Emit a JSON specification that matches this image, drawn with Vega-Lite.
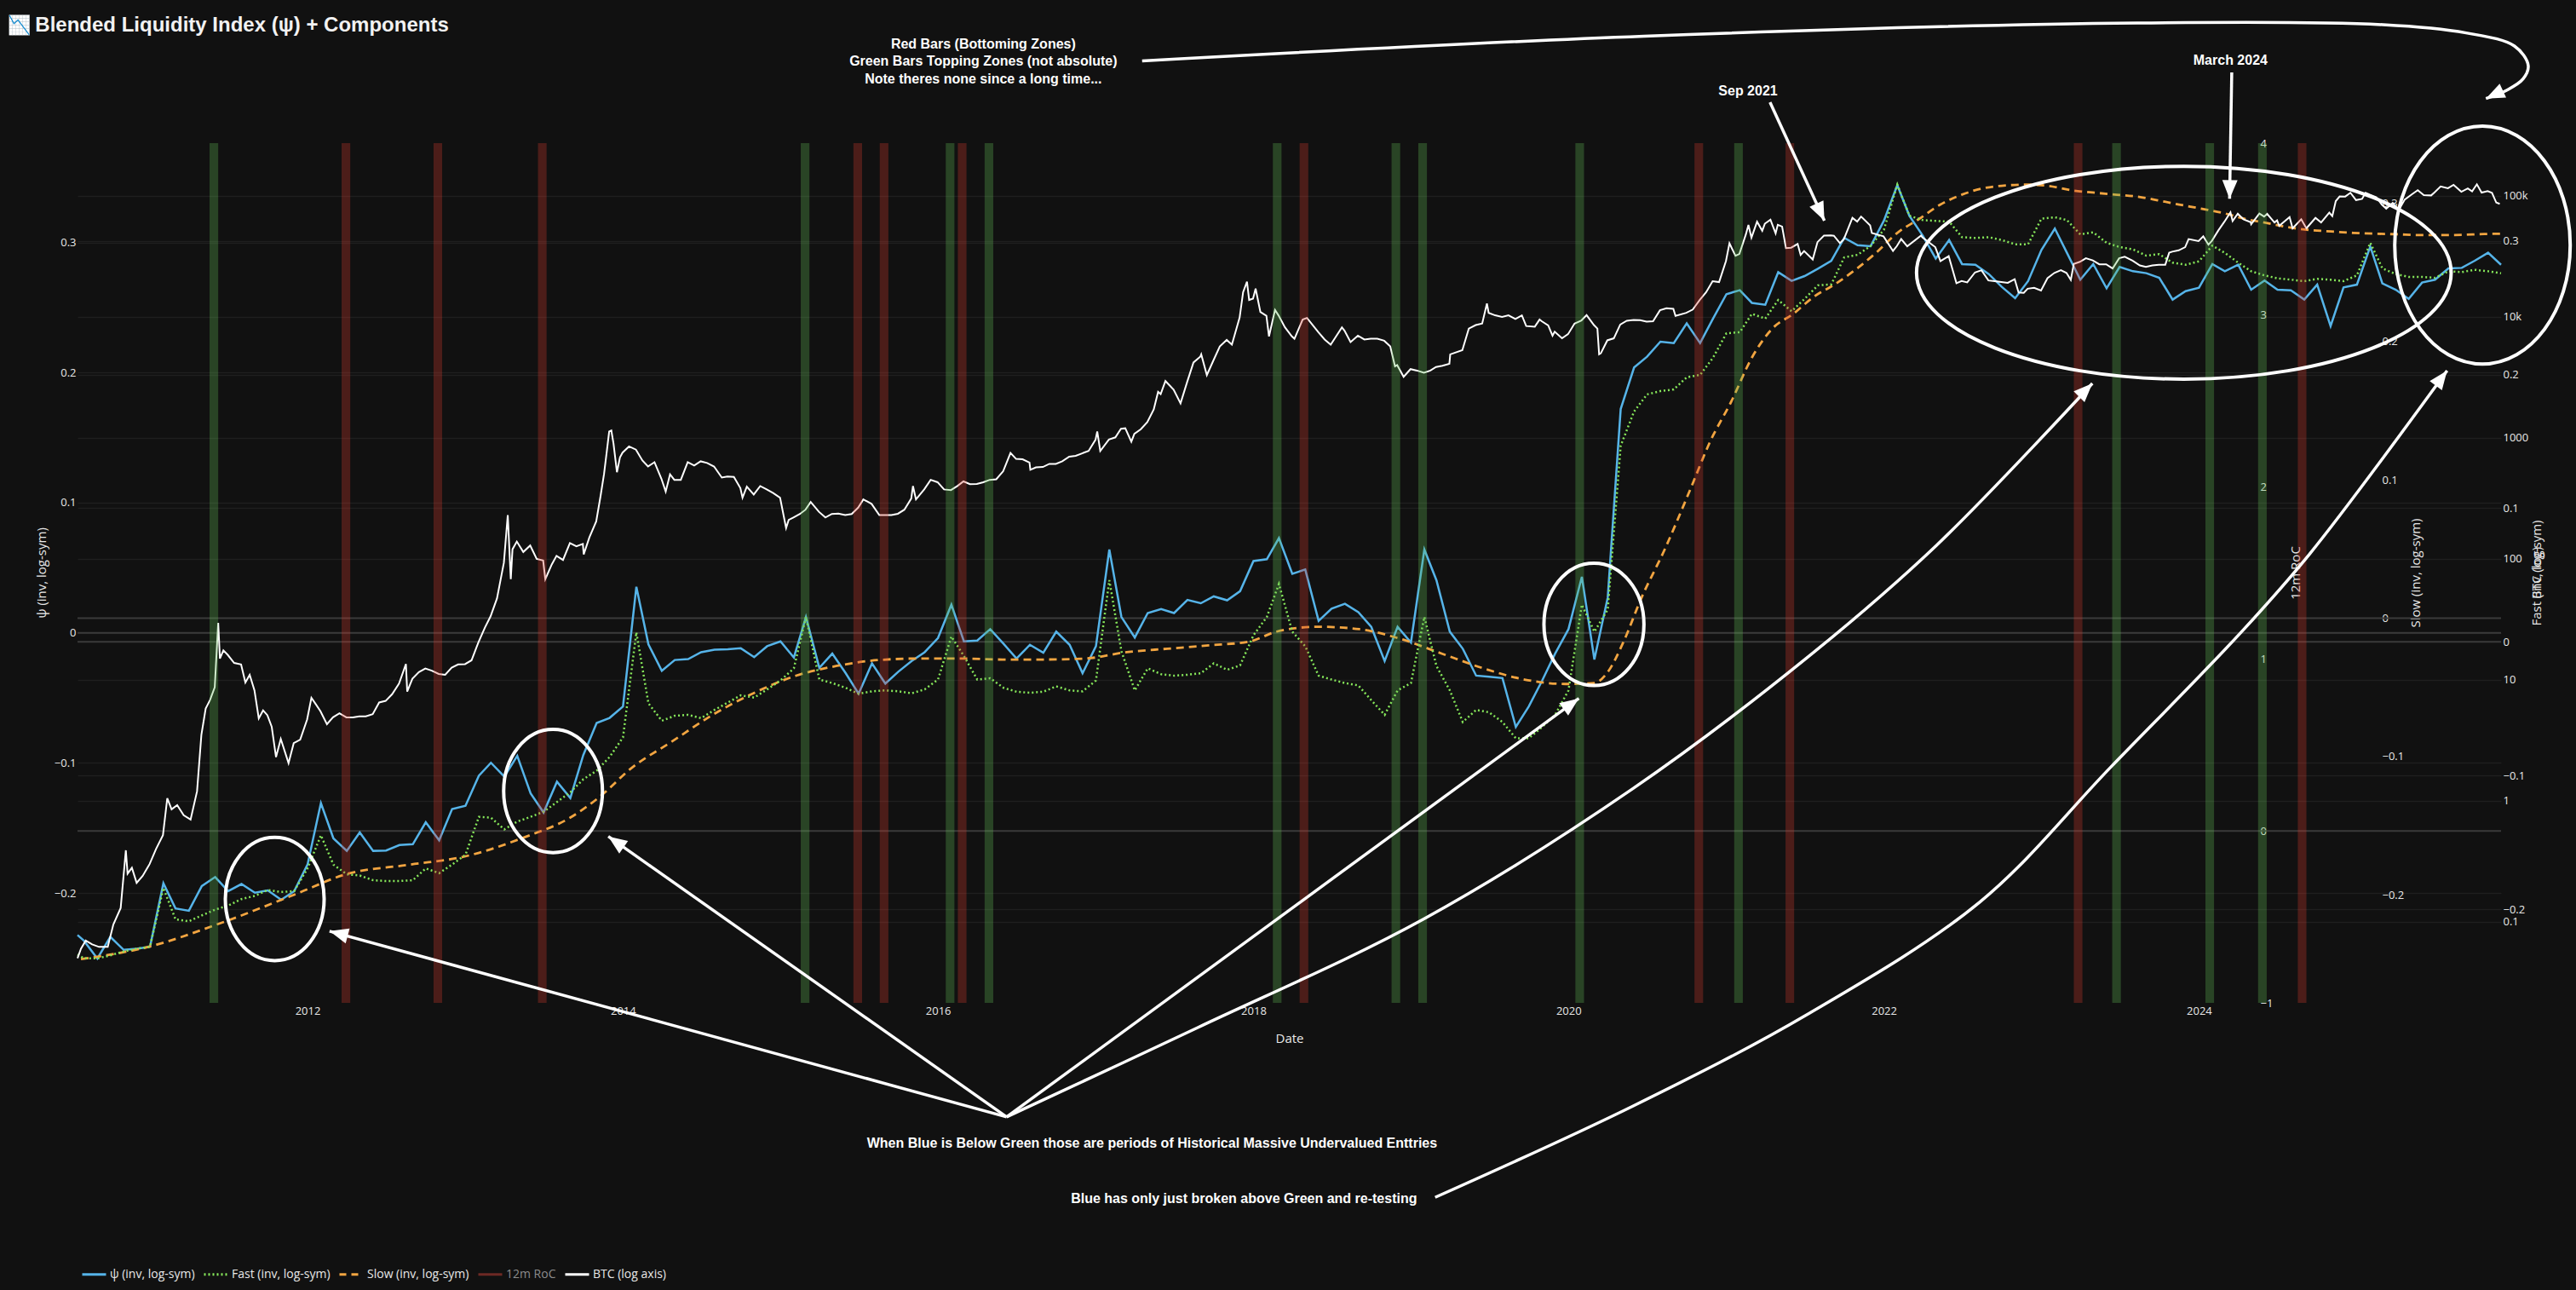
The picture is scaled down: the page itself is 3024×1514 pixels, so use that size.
{
  "$schema": "https://vega.github.io/schema/vega-lite/v6.json",
  "width": 2845,
  "height": 1009,
  "autosize": {"type": "none"},
  "padding": {"left": 91, "top": 168, "right": 88, "bottom": 337},
  "background": "#111111",
  "config": {
    "view": {"stroke": null},
    "axis": {
      "labelFont": "Open Sans", "labelFontSize": 13, "labelColor": "#e8e8e8",
      "titleFont": "Open Sans", "titleFontSize": 15, "titleFontWeight": "normal", "titleColor": "#e8e8e8",
      "domain": false, "ticks": false, "labelPadding": 2, "gridColor": "#1f1f1f", "gridWidth": 1.5,
      "labelOverlap": false, "labelFlush": false, "labelBound": false
    }
  },
  "datasets": {
    "m": [
      {"d": "2010-07-17", "p": -0.2323, "f": -0.2340}, {"d": "2010-08-01", "p": -0.2367, "f": -0.2368},
      {"d": "2010-09-01", "p": -0.2503, "f": -0.2368}, {"d": "2010-10-01", "p": -0.2337, "f": -0.2345},
      {"d": "2010-11-01", "p": -0.2437, "f": -0.2316}, {"d": "2010-12-01", "p": -0.2428, "f": -0.2295},
      {"d": "2011-01-01", "p": -0.2413, "f": -0.2280}, {"d": "2011-02-01", "p": -0.1925, "f": -0.1841},
      {"d": "2011-03-01", "p": -0.2118, "f": -0.2076}, {"d": "2011-04-01", "p": -0.2136, "f": -0.2090},
      {"d": "2011-05-01", "p": -0.1946, "f": -0.2046}, {"d": "2011-06-01", "p": -0.1877, "f": -0.2003},
      {"d": "2011-07-01", "p": -0.1986, "f": -0.1973}, {"d": "2011-08-01", "p": -0.1931, "f": -0.1924},
      {"d": "2011-09-01", "p": -0.1998, "f": -0.1900}, {"d": "2011-10-01", "p": -0.1980, "f": -0.1856},
      {"d": "2011-11-01", "p": -0.2052, "f": -0.1871}, {"d": "2011-12-01", "p": -0.1986, "f": -0.1865},
      {"d": "2012-01-01", "p": -0.1781, "f": -0.1695}, {"d": "2012-02-01", "p": -0.1309, "f": -0.1447},
      {"d": "2012-03-01", "p": -0.1580, "f": -0.1666}, {"d": "2012-04-01", "p": -0.1676, "f": -0.1739},
      {"d": "2012-05-01", "p": -0.1534, "f": -0.1748}, {"d": "2012-06-01", "p": -0.1676, "f": -0.1783},
      {"d": "2012-07-01", "p": -0.1673, "f": -0.1789}, {"d": "2012-08-01", "p": -0.1631, "f": -0.1789},
      {"d": "2012-09-01", "p": -0.1625, "f": -0.1783}, {"d": "2012-10-01", "p": -0.1456, "f": -0.1695},
      {"d": "2012-11-01", "p": -0.1595, "f": -0.1730}, {"d": "2012-12-01", "p": -0.1354, "f": -0.1666},
      {"d": "2013-01-01", "p": -0.1330, "f": -0.1593}, {"d": "2013-02-01", "p": -0.1099, "f": -0.1309},
      {"d": "2013-03-01", "p": -0.0999, "f": -0.1315}, {"d": "2013-04-01", "p": -0.1105, "f": -0.1403},
      {"d": "2013-05-01", "p": -0.0946, "f": -0.1344}, {"d": "2013-06-01", "p": -0.1234, "f": -0.1309},
      {"d": "2013-07-01", "p": -0.1381, "f": -0.1271}, {"d": "2013-08-01", "p": -0.1144, "f": -0.1198},
      {"d": "2013-09-01", "p": -0.1270, "f": -0.1125}, {"d": "2013-10-01", "p": -0.0940, "f": -0.1028},
      {"d": "2013-11-01", "p": -0.0693, "f": -0.0964}, {"d": "2013-12-01", "p": -0.0654, "f": -0.0861},
      {"d": "2014-01-01", "p": -0.0566, "f": -0.0715}, {"d": "2014-02-01", "p": 0.0354, "f": 0.0071},
      {"d": "2014-03-01", "p": -0.0089, "f": -0.0460}, {"d": "2014-04-01", "p": -0.0292, "f": -0.0590},
      {"d": "2014-05-01", "p": -0.0209, "f": -0.0553}, {"d": "2014-06-01", "p": -0.0202, "f": -0.0546},
      {"d": "2014-07-01", "p": -0.0149, "f": -0.0571}, {"d": "2014-08-01", "p": -0.0130, "f": -0.0509},
      {"d": "2014-09-01", "p": -0.0126, "f": -0.0454}, {"d": "2014-10-01", "p": -0.0119, "f": -0.0400},
      {"d": "2014-11-01", "p": -0.0187, "f": -0.0417}, {"d": "2014-12-01", "p": -0.0103, "f": -0.0356},
      {"d": "2015-01-01", "p": -0.0066, "f": -0.0289}, {"d": "2015-02-01", "p": -0.0190, "f": -0.0198},
      {"d": "2015-03-01", "p": 0.0122, "f": 0.0186}, {"d": "2015-04-01", "p": -0.0269, "f": -0.0282},
      {"d": "2015-05-01", "p": -0.0160, "f": -0.0308}, {"d": "2015-06-01", "p": -0.0310, "f": -0.0344},
      {"d": "2015-07-01", "p": -0.0468, "f": -0.0388}, {"d": "2015-08-01", "p": -0.0235, "f": -0.0370},
      {"d": "2015-09-01", "p": -0.0390, "f": -0.0363}, {"d": "2015-10-01", "p": -0.0299, "f": -0.0370},
      {"d": "2015-11-01", "p": -0.0217, "f": -0.0385}, {"d": "2015-12-01", "p": -0.0149, "f": -0.0356},
      {"d": "2016-01-01", "p": -0.0040, "f": -0.0282}, {"d": "2016-02-01", "p": 0.0216, "f": 0.0040},
      {"d": "2016-03-01", "p": -0.0066, "f": -0.0106}, {"d": "2016-04-01", "p": -0.0059, "f": -0.0282},
      {"d": "2016-05-01", "p": 0.0028, "f": -0.0272}, {"d": "2016-06-01", "p": -0.0085, "f": -0.0344},
      {"d": "2016-07-01", "p": -0.0198, "f": -0.0373}, {"d": "2016-08-01", "p": -0.0092, "f": -0.0381},
      {"d": "2016-09-01", "p": -0.0153, "f": -0.0373}, {"d": "2016-10-01", "p": 0.0009, "f": -0.0333},
      {"d": "2016-11-01", "p": -0.0092, "f": -0.0363}, {"d": "2016-12-01", "p": -0.0310, "f": -0.0370},
      {"d": "2017-01-01", "p": -0.0103, "f": -0.0289}, {"d": "2017-02-01", "p": 0.0640, "f": 0.0461},
      {"d": "2017-03-01", "p": 0.0122, "f": -0.0070}, {"d": "2017-04-01", "p": -0.0036, "f": -0.0363},
      {"d": "2017-05-01", "p": 0.0152, "f": -0.0198}, {"d": "2017-06-01", "p": 0.0182, "f": -0.0242},
      {"d": "2017-07-01", "p": 0.0152, "f": -0.0253}, {"d": "2017-08-01", "p": 0.0253, "f": -0.0246},
      {"d": "2017-09-01", "p": 0.0227, "f": -0.0235}, {"d": "2017-10-01", "p": 0.0280, "f": -0.0161},
      {"d": "2017-11-01", "p": 0.0250, "f": -0.0209}, {"d": "2017-12-01", "p": 0.0320, "f": -0.0176},
      {"d": "2018-01-01", "p": 0.0552, "f": 0.0049}, {"d": "2018-02-01", "p": 0.0566, "f": 0.0186},
      {"d": "2018-03-01", "p": 0.0728, "f": 0.0433}, {"d": "2018-04-01", "p": 0.0453, "f": 0.0076},
      {"d": "2018-05-01", "p": 0.0487, "f": -0.0033}, {"d": "2018-06-01", "p": 0.0092, "f": -0.0253},
      {"d": "2018-07-01", "p": 0.0186, "f": -0.0282}, {"d": "2018-08-01", "p": 0.0223, "f": -0.0308},
      {"d": "2018-09-01", "p": 0.0159, "f": -0.0326}, {"d": "2018-10-01", "p": 0.0046, "f": -0.0436},
      {"d": "2018-11-01", "p": -0.0217, "f": -0.0546}, {"d": "2018-12-01", "p": 0.0046, "f": -0.0363},
      {"d": "2019-01-01", "p": -0.0074, "f": -0.0308}, {"d": "2019-02-01", "p": 0.0640, "f": 0.0186},
      {"d": "2019-03-01", "p": 0.0404, "f": -0.0180}, {"d": "2019-04-01", "p": 0.0009, "f": -0.0363},
      {"d": "2019-05-01", "p": -0.0122, "f": -0.0600}, {"d": "2019-06-01", "p": -0.0329, "f": -0.0509},
      {"d": "2019-07-01", "p": -0.0337, "f": -0.0527}, {"d": "2019-08-01", "p": -0.0348, "f": -0.0600},
      {"d": "2019-09-01", "p": -0.0724, "f": -0.0721}, {"d": "2019-10-01", "p": -0.0566, "f": -0.0721},
      {"d": "2019-11-01", "p": -0.0367, "f": -0.0637}, {"d": "2019-12-01", "p": -0.0160, "f": -0.0546},
      {"d": "2020-01-01", "p": 0.0028, "f": -0.0363}, {"d": "2020-02-01", "p": 0.0430, "f": 0.0278},
      {"d": "2020-03-01", "p": -0.0205, "f": 0.0076}, {"d": "2020-04-01", "p": 0.0272, "f": 0.0241},
      {"d": "2020-05-01", "p": 0.1720, "f": 0.1467}, {"d": "2020-06-01", "p": 0.2039, "f": 0.1723},
      {"d": "2020-07-01", "p": 0.2122, "f": 0.1851}, {"d": "2020-08-01", "p": 0.2238, "f": 0.1876},
      {"d": "2020-09-01", "p": 0.2227, "f": 0.1888}, {"d": "2020-10-01", "p": 0.2378, "f": 0.1979},
      {"d": "2020-11-01", "p": 0.2227, "f": 0.1997}, {"d": "2020-12-01", "p": 0.2415, "f": 0.2126},
      {"d": "2021-01-01", "p": 0.2603, "f": 0.2308}, {"d": "2021-02-01", "p": 0.2633, "f": 0.2316},
      {"d": "2021-03-01", "p": 0.2536, "f": 0.2454}, {"d": "2021-04-01", "p": 0.2521, "f": 0.2418},
      {"d": "2021-05-01", "p": 0.2772, "f": 0.2557}, {"d": "2021-06-01", "p": 0.2705, "f": 0.2473},
      {"d": "2021-07-01", "p": 0.2742, "f": 0.2565}, {"d": "2021-08-01", "p": 0.2799, "f": 0.2667},
      {"d": "2021-09-01", "p": 0.2859, "f": 0.2674}, {"d": "2021-10-01", "p": 0.3035, "f": 0.2876},
      {"d": "2021-11-01", "p": 0.2979, "f": 0.2895}, {"d": "2021-12-01", "p": 0.2971, "f": 0.2961},
      {"d": "2022-01-01", "p": 0.3168, "f": 0.3083}, {"d": "2022-02-01", "p": 0.3441, "f": 0.3420},
      {"d": "2022-03-01", "p": 0.3205, "f": 0.3187}, {"d": "2022-04-01", "p": 0.3052, "f": 0.3155},
      {"d": "2022-05-01", "p": 0.2877, "f": 0.3149}, {"d": "2022-06-01", "p": 0.3019, "f": 0.3144},
      {"d": "2022-07-01", "p": 0.2834, "f": 0.3027}, {"d": "2022-08-01", "p": 0.2829, "f": 0.3021},
      {"d": "2022-09-01", "p": 0.2757, "f": 0.3027}, {"d": "2022-10-01", "p": 0.2659, "f": 0.3006},
      {"d": "2022-11-01", "p": 0.2572, "f": 0.2974}, {"d": "2022-12-01", "p": 0.2703, "f": 0.2974},
      {"d": "2023-01-01", "p": 0.2943, "f": 0.3165}, {"d": "2023-02-01", "p": 0.3107, "f": 0.3176},
      {"d": "2023-03-01", "p": 0.2921, "f": 0.3155}, {"d": "2023-04-01", "p": 0.2714, "f": 0.3048},
      {"d": "2023-05-01", "p": 0.2834, "f": 0.3063}, {"d": "2023-06-01", "p": 0.2648, "f": 0.2985},
      {"d": "2023-07-01", "p": 0.2812, "f": 0.2953}, {"d": "2023-08-01", "p": 0.2779, "f": 0.2936},
      {"d": "2023-09-01", "p": 0.2764, "f": 0.2889}, {"d": "2023-10-01", "p": 0.2729, "f": 0.2900},
      {"d": "2023-11-01", "p": 0.2561, "f": 0.2836}, {"d": "2023-12-01", "p": 0.2626, "f": 0.2821},
      {"d": "2024-01-01", "p": 0.2652, "f": 0.2846}, {"d": "2024-02-01", "p": 0.2834, "f": 0.2964},
      {"d": "2024-03-01", "p": 0.2779, "f": 0.2910}, {"d": "2024-04-01", "p": 0.2829, "f": 0.2836},
      {"d": "2024-05-01", "p": 0.2637, "f": 0.2772}, {"d": "2024-06-01", "p": 0.2707, "f": 0.2741},
      {"d": "2024-07-01", "p": 0.2637, "f": 0.2719}, {"d": "2024-08-01", "p": 0.2633, "f": 0.2709},
      {"d": "2024-09-01", "p": 0.2561, "f": 0.2698}, {"d": "2024-10-01", "p": 0.2676, "f": 0.2715},
      {"d": "2024-11-01", "p": 0.2358, "f": 0.2709}, {"d": "2024-12-01", "p": 0.2655, "f": 0.2698},
      {"d": "2025-01-01", "p": 0.2676, "f": 0.2741}, {"d": "2025-02-01", "p": 0.2969, "f": 0.2985},
      {"d": "2025-03-01", "p": 0.2685, "f": 0.2794}, {"d": "2025-04-01", "p": 0.2637, "f": 0.2751},
      {"d": "2025-05-01", "p": 0.2567, "f": 0.2730}, {"d": "2025-06-01", "p": 0.2692, "f": 0.2730},
      {"d": "2025-07-01", "p": 0.2714, "f": 0.2723}, {"d": "2025-08-01", "p": 0.2801, "f": 0.2772},
      {"d": "2025-09-01", "p": 0.2805, "f": 0.2766}, {"d": "2025-10-01", "p": 0.2860, "f": 0.2783},
      {"d": "2025-11-01", "p": 0.2921, "f": 0.2772}, {"d": "2025-12-01", "p": 0.2829, "f": 0.2757}
    ],
    "slow": [
      {"d": "2010-07-25", "v": -0.2466}, {"d": "2010-12-29", "v": -0.2376}, {"d": "2011-06-13", "v": -0.2206},
      {"d": "2011-12-06", "v": -0.1994}, {"d": "2012-03-29", "v": -0.1853}, {"d": "2012-08-26", "v": -0.1782},
      {"d": "2012-12-28", "v": -0.1725}, {"d": "2013-05-18", "v": -0.1584}, {"d": "2013-09-01", "v": -0.1442},
      {"d": "2013-11-10", "v": -0.1287}, {"d": "2014-01-19", "v": -0.1088}, {"d": "2014-04-24", "v": -0.0893},
      {"d": "2014-07-28", "v": -0.0699}, {"d": "2014-11-01", "v": -0.0540}, {"d": "2015-02-06", "v": -0.0416},
      {"d": "2015-05-12", "v": -0.0345}, {"d": "2015-08-16", "v": -0.0303}, {"d": "2015-11-19", "v": -0.0292},
      {"d": "2016-02-23", "v": -0.0292}, {"d": "2016-05-29", "v": -0.0299}, {"d": "2016-09-02", "v": -0.0299},
      {"d": "2016-12-07", "v": -0.0292}, {"d": "2017-03-13", "v": -0.0246}, {"d": "2017-06-16", "v": -0.0221},
      {"d": "2017-09-20", "v": -0.0197}, {"d": "2017-12-24", "v": -0.0168}, {"d": "2018-02-24", "v": -0.0097},
      {"d": "2018-05-31", "v": -0.0062}, {"d": "2018-09-04", "v": -0.0080}, {"d": "2018-12-08", "v": -0.0150},
      {"d": "2019-03-14", "v": -0.0257}, {"d": "2019-06-18", "v": -0.0363}, {"d": "2019-09-21", "v": -0.0444},
      {"d": "2019-12-25", "v": -0.0476}, {"d": "2020-03-01", "v": -0.0469}, {"d": "2020-03-30", "v": -0.0398},
      {"d": "2020-05-08", "v": -0.0168}, {"d": "2020-06-16", "v": 0.0132}, {"d": "2020-08-12", "v": 0.0504},
      {"d": "2020-10-09", "v": 0.0929}, {"d": "2020-11-25", "v": 0.1282}, {"d": "2021-01-12", "v": 0.1565},
      {"d": "2021-03-01", "v": 0.1884}, {"d": "2021-04-18", "v": 0.2096}, {"d": "2021-06-05", "v": 0.2201},
      {"d": "2021-07-23", "v": 0.2325}, {"d": "2021-09-09", "v": 0.2414}, {"d": "2021-10-27", "v": 0.2520},
      {"d": "2021-12-13", "v": 0.2640}, {"d": "2022-02-01", "v": 0.2786}, {"d": "2022-03-24", "v": 0.2888},
      {"d": "2022-05-12", "v": 0.2991}, {"d": "2022-07-01", "v": 0.3063}, {"d": "2022-08-21", "v": 0.3110},
      {"d": "2022-10-10", "v": 0.3129}, {"d": "2022-11-29", "v": 0.3135}, {"d": "2023-01-19", "v": 0.3125},
      {"d": "2023-03-11", "v": 0.3094}, {"d": "2023-04-30", "v": 0.3078}, {"d": "2023-06-19", "v": 0.3063},
      {"d": "2023-08-08", "v": 0.3049}, {"d": "2023-09-27", "v": 0.3022}, {"d": "2023-11-16", "v": 0.2991},
      {"d": "2024-01-06", "v": 0.2961}, {"d": "2024-02-26", "v": 0.2930}, {"d": "2024-04-16", "v": 0.2888},
      {"d": "2024-06-05", "v": 0.2858}, {"d": "2024-07-26", "v": 0.2827}, {"d": "2024-09-14", "v": 0.2807},
      {"d": "2024-11-03", "v": 0.2796}, {"d": "2024-12-23", "v": 0.2786}, {"d": "2025-02-13", "v": 0.2780},
      {"d": "2025-04-04", "v": 0.2776}, {"d": "2025-05-25", "v": 0.2770}, {"d": "2025-07-14", "v": 0.2770},
      {"d": "2025-09-02", "v": 0.2772}, {"d": "2025-10-23", "v": 0.2778}, {"d": "2025-12-01", "v": 0.2780}
    ],
    "btc": [
      {"d": "2010-07-17", "p": 0.05}, {"d": "2010-07-25", "p": 0.06}, {"d": "2010-08-05", "p": 0.07}, {"d": "2010-08-20", "p": 0.065},
      {"d": "2010-09-05", "p": 0.062}, {"d": "2010-09-25", "p": 0.062}, {"d": "2010-10-08", "p": 0.095}, {"d": "2010-10-25", "p": 0.13},
      {"d": "2010-11-06", "p": 0.39}, {"d": "2010-11-10", "p": 0.25}, {"d": "2010-11-20", "p": 0.28}, {"d": "2010-12-01", "p": 0.21},
      {"d": "2010-12-15", "p": 0.24}, {"d": "2010-12-31", "p": 0.30}, {"d": "2011-01-15", "p": 0.40}, {"d": "2011-01-31", "p": 0.52},
      {"d": "2011-02-10", "p": 1.05}, {"d": "2011-02-20", "p": 0.85}, {"d": "2011-03-05", "p": 0.92}, {"d": "2011-03-20", "p": 0.76},
      {"d": "2011-04-05", "p": 0.70}, {"d": "2011-04-20", "p": 1.2}, {"d": "2011-04-30", "p": 3.5}, {"d": "2011-05-10", "p": 5.8},
      {"d": "2011-05-20", "p": 6.8}, {"d": "2011-05-31", "p": 8.7}, {"d": "2011-06-08", "p": 29.6}, {"d": "2011-06-12", "p": 15},
      {"d": "2011-06-20", "p": 17.5}, {"d": "2011-06-30", "p": 16.1}, {"d": "2011-07-15", "p": 13.8}, {"d": "2011-07-31", "p": 13.4},
      {"d": "2011-08-10", "p": 9.5}, {"d": "2011-08-20", "p": 11}, {"d": "2011-08-31", "p": 8.2}, {"d": "2011-09-10", "p": 4.8},
      {"d": "2011-09-20", "p": 5.6}, {"d": "2011-09-30", "p": 5.1}, {"d": "2011-10-10", "p": 4.1}, {"d": "2011-10-20", "p": 2.3},
      {"d": "2011-10-31", "p": 3.25}, {"d": "2011-11-18", "p": 2.05}, {"d": "2011-11-30", "p": 3.0}, {"d": "2011-12-15", "p": 3.2},
      {"d": "2011-12-31", "p": 4.7}, {"d": "2012-01-10", "p": 7.1}, {"d": "2012-01-20", "p": 6.3}, {"d": "2012-01-31", "p": 5.5},
      {"d": "2012-02-15", "p": 4.3}, {"d": "2012-02-29", "p": 4.9}, {"d": "2012-03-15", "p": 5.3}, {"d": "2012-03-31", "p": 4.9},
      {"d": "2012-04-15", "p": 4.9}, {"d": "2012-04-30", "p": 5.0}, {"d": "2012-05-15", "p": 5.0}, {"d": "2012-05-31", "p": 5.2},
      {"d": "2012-06-15", "p": 6.5}, {"d": "2012-06-30", "p": 6.7}, {"d": "2012-07-15", "p": 7.6}, {"d": "2012-07-31", "p": 9.3},
      {"d": "2012-08-16", "p": 13.5}, {"d": "2012-08-19", "p": 8.0}, {"d": "2012-08-31", "p": 10.2}, {"d": "2012-09-15", "p": 11.6},
      {"d": "2012-09-30", "p": 12.4}, {"d": "2012-10-15", "p": 11.9}, {"d": "2012-10-31", "p": 11.2}, {"d": "2012-11-15", "p": 11.0},
      {"d": "2012-11-30", "p": 12.6}, {"d": "2012-12-15", "p": 13.4}, {"d": "2012-12-31", "p": 13.5}, {"d": "2013-01-15", "p": 14.5},
      {"d": "2013-01-31", "p": 20.4}, {"d": "2013-02-15", "p": 27}, {"d": "2013-02-28", "p": 33.4}, {"d": "2013-03-15", "p": 47},
      {"d": "2013-03-31", "p": 93}, {"d": "2013-04-09", "p": 230}, {"d": "2013-04-16", "p": 68}, {"d": "2013-04-20", "p": 120},
      {"d": "2013-04-30", "p": 139}, {"d": "2013-05-15", "p": 114}, {"d": "2013-05-31", "p": 129}, {"d": "2013-06-15", "p": 100},
      {"d": "2013-06-30", "p": 97}, {"d": "2013-07-05", "p": 68}, {"d": "2013-07-20", "p": 90}, {"d": "2013-07-31", "p": 106},
      {"d": "2013-08-15", "p": 98}, {"d": "2013-08-31", "p": 135}, {"d": "2013-09-15", "p": 127}, {"d": "2013-09-30", "p": 133},
      {"d": "2013-10-02", "p": 109}, {"d": "2013-10-15", "p": 150}, {"d": "2013-10-31", "p": 204}, {"d": "2013-11-10", "p": 330},
      {"d": "2013-11-18", "p": 500}, {"d": "2013-11-25", "p": 800}, {"d": "2013-11-30", "p": 1128}, {"d": "2013-12-05", "p": 1150},
      {"d": "2013-12-10", "p": 900}, {"d": "2013-12-18", "p": 520}, {"d": "2013-12-25", "p": 690}, {"d": "2013-12-31", "p": 755},
      {"d": "2014-01-15", "p": 850}, {"d": "2014-01-31", "p": 800}, {"d": "2014-02-15", "p": 650}, {"d": "2014-02-28", "p": 580},
      {"d": "2014-03-15", "p": 630}, {"d": "2014-03-31", "p": 460}, {"d": "2014-04-10", "p": 360}, {"d": "2014-04-20", "p": 500},
      {"d": "2014-04-30", "p": 450}, {"d": "2014-05-15", "p": 450}, {"d": "2014-05-31", "p": 630}, {"d": "2014-06-15", "p": 590},
      {"d": "2014-06-30", "p": 640}, {"d": "2014-07-15", "p": 620}, {"d": "2014-07-31", "p": 580}, {"d": "2014-08-18", "p": 470},
      {"d": "2014-08-31", "p": 480}, {"d": "2014-09-15", "p": 475}, {"d": "2014-09-30", "p": 385}, {"d": "2014-10-05", "p": 320},
      {"d": "2014-10-15", "p": 395}, {"d": "2014-10-31", "p": 340}, {"d": "2014-11-15", "p": 400}, {"d": "2014-11-30", "p": 375},
      {"d": "2014-12-15", "p": 350}, {"d": "2014-12-31", "p": 320}, {"d": "2015-01-14", "p": 180}, {"d": "2015-01-20", "p": 210},
      {"d": "2015-01-31", "p": 220}, {"d": "2015-02-15", "p": 235}, {"d": "2015-02-28", "p": 255}, {"d": "2015-03-12", "p": 295},
      {"d": "2015-03-31", "p": 245}, {"d": "2015-04-15", "p": 220}, {"d": "2015-04-30", "p": 235}, {"d": "2015-05-15", "p": 237},
      {"d": "2015-05-31", "p": 230}, {"d": "2015-06-15", "p": 235}, {"d": "2015-06-30", "p": 265}, {"d": "2015-07-12", "p": 310},
      {"d": "2015-07-31", "p": 285}, {"d": "2015-08-18", "p": 230}, {"d": "2015-08-31", "p": 230}, {"d": "2015-09-15", "p": 230},
      {"d": "2015-09-30", "p": 236}, {"d": "2015-10-15", "p": 255}, {"d": "2015-10-31", "p": 315}, {"d": "2015-11-04", "p": 400},
      {"d": "2015-11-11", "p": 310}, {"d": "2015-11-30", "p": 375}, {"d": "2015-12-15", "p": 450}, {"d": "2015-12-31", "p": 430},
      {"d": "2016-01-15", "p": 375}, {"d": "2016-01-31", "p": 370}, {"d": "2016-02-15", "p": 400}, {"d": "2016-02-29", "p": 437},
      {"d": "2016-03-15", "p": 415}, {"d": "2016-03-31", "p": 416}, {"d": "2016-04-15", "p": 430}, {"d": "2016-04-30", "p": 450},
      {"d": "2016-05-15", "p": 455}, {"d": "2016-05-31", "p": 530}, {"d": "2016-06-17", "p": 750}, {"d": "2016-06-30", "p": 670},
      {"d": "2016-07-15", "p": 665}, {"d": "2016-07-31", "p": 625}, {"d": "2016-08-02", "p": 545}, {"d": "2016-08-15", "p": 570},
      {"d": "2016-08-31", "p": 575}, {"d": "2016-09-15", "p": 610}, {"d": "2016-09-30", "p": 610}, {"d": "2016-10-15", "p": 640},
      {"d": "2016-10-31", "p": 700}, {"d": "2016-11-15", "p": 710}, {"d": "2016-11-30", "p": 745}, {"d": "2016-12-15", "p": 780},
      {"d": "2016-12-31", "p": 965}, {"d": "2017-01-04", "p": 1130}, {"d": "2017-01-11", "p": 780}, {"d": "2017-01-31", "p": 970},
      {"d": "2017-02-15", "p": 1010}, {"d": "2017-02-28", "p": 1190}, {"d": "2017-03-10", "p": 1200}, {"d": "2017-03-24", "p": 930},
      {"d": "2017-03-31", "p": 1080}, {"d": "2017-04-15", "p": 1180}, {"d": "2017-04-30", "p": 1350}, {"d": "2017-05-15", "p": 1720},
      {"d": "2017-05-25", "p": 2400}, {"d": "2017-05-31", "p": 2300}, {"d": "2017-06-11", "p": 2950}, {"d": "2017-06-30", "p": 2500},
      {"d": "2017-07-16", "p": 1930}, {"d": "2017-07-31", "p": 2870}, {"d": "2017-08-15", "p": 4200}, {"d": "2017-08-31", "p": 4700},
      {"d": "2017-09-02", "p": 4900}, {"d": "2017-09-15", "p": 3300}, {"d": "2017-09-30", "p": 4350}, {"d": "2017-10-15", "p": 5700},
      {"d": "2017-10-31", "p": 6450}, {"d": "2017-11-12", "p": 5900}, {"d": "2017-11-30", "p": 9900}, {"d": "2017-12-08", "p": 16000},
      {"d": "2017-12-17", "p": 19500}, {"d": "2017-12-22", "p": 13800}, {"d": "2017-12-31", "p": 14150}, {"d": "2018-01-06", "p": 17100},
      {"d": "2018-01-17", "p": 11000}, {"d": "2018-01-31", "p": 10200}, {"d": "2018-02-06", "p": 6900}, {"d": "2018-02-20", "p": 11400},
      {"d": "2018-02-28", "p": 10300}, {"d": "2018-03-15", "p": 8200}, {"d": "2018-03-31", "p": 6900}, {"d": "2018-04-06", "p": 6600},
      {"d": "2018-04-25", "p": 9500}, {"d": "2018-05-05", "p": 9800}, {"d": "2018-05-31", "p": 7500}, {"d": "2018-06-15", "p": 6500},
      {"d": "2018-06-29", "p": 5900}, {"d": "2018-07-25", "p": 8200}, {"d": "2018-07-31", "p": 7700}, {"d": "2018-08-14", "p": 6200},
      {"d": "2018-08-31", "p": 7000}, {"d": "2018-09-15", "p": 6500}, {"d": "2018-09-30", "p": 6600}, {"d": "2018-10-15", "p": 6600},
      {"d": "2018-10-31", "p": 6350}, {"d": "2018-11-14", "p": 5700}, {"d": "2018-11-25", "p": 3900}, {"d": "2018-11-30", "p": 4000},
      {"d": "2018-12-15", "p": 3200}, {"d": "2018-12-31", "p": 3700}, {"d": "2019-01-15", "p": 3600}, {"d": "2019-01-31", "p": 3450},
      {"d": "2019-02-15", "p": 3600}, {"d": "2019-02-28", "p": 3850}, {"d": "2019-03-15", "p": 3950}, {"d": "2019-03-31", "p": 4100},
      {"d": "2019-04-02", "p": 4900}, {"d": "2019-04-30", "p": 5300}, {"d": "2019-05-15", "p": 8000}, {"d": "2019-05-31", "p": 8550},
      {"d": "2019-06-15", "p": 8800}, {"d": "2019-06-26", "p": 12900}, {"d": "2019-06-30", "p": 10800}, {"d": "2019-07-15", "p": 10300},
      {"d": "2019-07-31", "p": 10000}, {"d": "2019-08-15", "p": 10300}, {"d": "2019-08-31", "p": 9600}, {"d": "2019-09-15", "p": 10300},
      {"d": "2019-09-25", "p": 8400}, {"d": "2019-10-15", "p": 8300}, {"d": "2019-10-26", "p": 9500}, {"d": "2019-10-31", "p": 9200},
      {"d": "2019-11-15", "p": 8500}, {"d": "2019-11-25", "p": 7000}, {"d": "2019-11-30", "p": 7550}, {"d": "2019-12-17", "p": 6650},
      {"d": "2019-12-31", "p": 7200}, {"d": "2020-01-15", "p": 8800}, {"d": "2020-01-31", "p": 9350}, {"d": "2020-02-12", "p": 10350},
      {"d": "2020-02-29", "p": 8550}, {"d": "2020-03-08", "p": 8000}, {"d": "2020-03-12", "p": 4900}, {"d": "2020-03-16", "p": 5000},
      {"d": "2020-03-31", "p": 6400}, {"d": "2020-04-15", "p": 6650}, {"d": "2020-04-30", "p": 8650}, {"d": "2020-05-15", "p": 9300},
      {"d": "2020-05-31", "p": 9450}, {"d": "2020-06-15", "p": 9400}, {"d": "2020-06-30", "p": 9150}, {"d": "2020-07-15", "p": 9200},
      {"d": "2020-07-31", "p": 11350}, {"d": "2020-08-15", "p": 11800}, {"d": "2020-08-31", "p": 11650}, {"d": "2020-09-05", "p": 10200},
      {"d": "2020-09-30", "p": 10800}, {"d": "2020-10-15", "p": 11500}, {"d": "2020-10-31", "p": 13800}, {"d": "2020-11-15", "p": 16000},
      {"d": "2020-11-30", "p": 19700}, {"d": "2020-12-15", "p": 19400}, {"d": "2020-12-31", "p": 29000}, {"d": "2021-01-08", "p": 40500},
      {"d": "2021-01-22", "p": 32000}, {"d": "2021-01-31", "p": 33100}, {"d": "2021-02-15", "p": 48000}, {"d": "2021-02-21", "p": 57500},
      {"d": "2021-02-28", "p": 45200}, {"d": "2021-03-13", "p": 61200}, {"d": "2021-03-25", "p": 51500}, {"d": "2021-03-31", "p": 58900},
      {"d": "2021-04-13", "p": 63500}, {"d": "2021-04-25", "p": 49000}, {"d": "2021-04-30", "p": 57700}, {"d": "2021-05-10", "p": 55800},
      {"d": "2021-05-19", "p": 37000}, {"d": "2021-05-31", "p": 37300}, {"d": "2021-06-15", "p": 40100}, {"d": "2021-06-22", "p": 32500},
      {"d": "2021-06-30", "p": 35000}, {"d": "2021-07-20", "p": 29800}, {"d": "2021-07-31", "p": 41500}, {"d": "2021-08-15", "p": 47000},
      {"d": "2021-08-31", "p": 47100}, {"d": "2021-09-07", "p": 46800}, {"d": "2021-09-21", "p": 40700}, {"d": "2021-09-30", "p": 43800},
      {"d": "2021-10-20", "p": 65900}, {"d": "2021-10-31", "p": 61300}, {"d": "2021-11-09", "p": 67500}, {"d": "2021-11-30", "p": 57000},
      {"d": "2021-12-04", "p": 49300}, {"d": "2021-12-31", "p": 46300}, {"d": "2022-01-22", "p": 35100}, {"d": "2022-01-31", "p": 38500},
      {"d": "2022-02-10", "p": 44000}, {"d": "2022-02-24", "p": 38300}, {"d": "2022-03-28", "p": 47100}, {"d": "2022-03-31", "p": 45500},
      {"d": "2022-04-30", "p": 37700}, {"d": "2022-05-12", "p": 28900}, {"d": "2022-05-31", "p": 31800}, {"d": "2022-06-18", "p": 19000},
      {"d": "2022-06-30", "p": 19800}, {"d": "2022-07-13", "p": 19300}, {"d": "2022-07-31", "p": 23300}, {"d": "2022-08-15", "p": 24300},
      {"d": "2022-08-31", "p": 20000}, {"d": "2022-09-15", "p": 19700}, {"d": "2022-09-30", "p": 19400}, {"d": "2022-10-15", "p": 19100},
      {"d": "2022-10-31", "p": 20500}, {"d": "2022-11-09", "p": 15900}, {"d": "2022-11-21", "p": 15800}, {"d": "2022-11-30", "p": 17100},
      {"d": "2022-12-15", "p": 17400}, {"d": "2022-12-31", "p": 16500}, {"d": "2023-01-15", "p": 20900}, {"d": "2023-01-31", "p": 23100},
      {"d": "2023-02-15", "p": 24300}, {"d": "2023-02-28", "p": 23100}, {"d": "2023-03-10", "p": 20200}, {"d": "2023-03-17", "p": 27400},
      {"d": "2023-03-31", "p": 28500}, {"d": "2023-04-14", "p": 30500}, {"d": "2023-04-30", "p": 29300}, {"d": "2023-05-15", "p": 27200},
      {"d": "2023-05-31", "p": 27200}, {"d": "2023-06-15", "p": 25100}, {"d": "2023-06-30", "p": 30500}, {"d": "2023-07-13", "p": 31400},
      {"d": "2023-07-31", "p": 29200}, {"d": "2023-08-17", "p": 26600}, {"d": "2023-08-31", "p": 25900}, {"d": "2023-09-15", "p": 26600},
      {"d": "2023-09-30", "p": 27000}, {"d": "2023-10-15", "p": 27000}, {"d": "2023-10-24", "p": 33900}, {"d": "2023-10-31", "p": 34600},
      {"d": "2023-11-15", "p": 35500}, {"d": "2023-11-30", "p": 37700}, {"d": "2023-12-08", "p": 44000}, {"d": "2023-12-31", "p": 42300},
      {"d": "2024-01-11", "p": 46300}, {"d": "2024-01-23", "p": 39500}, {"d": "2024-01-31", "p": 42600}, {"d": "2024-02-15", "p": 51900},
      {"d": "2024-02-29", "p": 61200}, {"d": "2024-03-14", "p": 73100}, {"d": "2024-03-19", "p": 62000}, {"d": "2024-03-31", "p": 71300},
      {"d": "2024-04-13", "p": 64000}, {"d": "2024-04-30", "p": 60600}, {"d": "2024-05-01", "p": 58300}, {"d": "2024-05-20", "p": 71400},
      {"d": "2024-05-31", "p": 67500}, {"d": "2024-06-07", "p": 71000}, {"d": "2024-06-24", "p": 60300}, {"d": "2024-06-30", "p": 62700},
      {"d": "2024-07-05", "p": 56600}, {"d": "2024-07-29", "p": 66800}, {"d": "2024-08-05", "p": 54000}, {"d": "2024-08-25", "p": 64100},
      {"d": "2024-09-06", "p": 53900}, {"d": "2024-09-27", "p": 65800}, {"d": "2024-10-10", "p": 60300}, {"d": "2024-10-29", "p": 72700},
      {"d": "2024-11-05", "p": 68000}, {"d": "2024-11-13", "p": 90500}, {"d": "2024-11-22", "p": 98900}, {"d": "2024-12-05", "p": 98800},
      {"d": "2024-12-17", "p": 106100}, {"d": "2024-12-30", "p": 92300}, {"d": "2025-01-13", "p": 94500}, {"d": "2025-01-21", "p": 106100},
      {"d": "2025-01-31", "p": 102400}, {"d": "2025-02-15", "p": 97500}, {"d": "2025-02-28", "p": 84300}, {"d": "2025-03-10", "p": 78500},
      {"d": "2025-03-25", "p": 87500}, {"d": "2025-04-08", "p": 76300}, {"d": "2025-04-22", "p": 93400}, {"d": "2025-05-10", "p": 104000},
      {"d": "2025-05-22", "p": 111600}, {"d": "2025-06-05", "p": 101500}, {"d": "2025-06-22", "p": 100900}, {"d": "2025-06-30", "p": 107100},
      {"d": "2025-07-14", "p": 119800}, {"d": "2025-07-31", "p": 115700}, {"d": "2025-08-13", "p": 123300}, {"d": "2025-08-31", "p": 108200},
      {"d": "2025-09-15", "p": 115300}, {"d": "2025-09-25", "p": 109000}, {"d": "2025-10-06", "p": 124700}, {"d": "2025-10-17", "p": 106400},
      {"d": "2025-10-31", "p": 109500}, {"d": "2025-11-10", "p": 106000}, {"d": "2025-11-20", "p": 88000}, {"d": "2025-11-28", "p": 86000}
    ],
    "bars": [
      {"s": "2011-05-19", "e": "2011-06-08", "k": "g"}, {"s": "2015-02-17", "e": "2015-03-09", "k": "g"},
      {"s": "2016-01-19", "e": "2016-02-08", "k": "g"}, {"s": "2016-04-18", "e": "2016-05-08", "k": "g"},
      {"s": "2018-02-15", "e": "2018-03-07", "k": "g"}, {"s": "2018-11-17", "e": "2018-12-07", "k": "g"},
      {"s": "2019-01-18", "e": "2019-02-07", "k": "g"}, {"s": "2020-01-17", "e": "2020-02-06", "k": "g"},
      {"s": "2021-01-19", "e": "2021-02-08", "k": "g"}, {"s": "2023-06-14", "e": "2023-07-04", "k": "g"},
      {"s": "2024-01-16", "e": "2024-02-05", "k": "g"}, {"s": "2024-05-17", "e": "2024-06-06", "k": "g"},
      {"s": "2012-03-20", "e": "2012-04-09", "k": "r"}, {"s": "2012-10-19", "e": "2012-11-08", "k": "r"},
      {"s": "2013-06-18", "e": "2013-07-08", "k": "r"}, {"s": "2015-06-19", "e": "2015-07-09", "k": "r"},
      {"s": "2015-08-19", "e": "2015-09-08", "k": "r"}, {"s": "2016-02-16", "e": "2016-03-07", "k": "r"},
      {"s": "2018-04-18", "e": "2018-05-08", "k": "r"}, {"s": "2020-10-19", "e": "2020-11-08", "k": "r"},
      {"s": "2021-05-18", "e": "2021-06-07", "k": "r"}, {"s": "2023-03-17", "e": "2023-04-06", "k": "r"},
      {"s": "2024-08-17", "e": "2024-09-06", "k": "r"}
    ],
    "ell": [
      {"id": 1, "d": "2011-10-17", "v": -0.2046}, {"id": 2, "d": "2013-07-23", "v": -0.1216},
      {"id": 3, "d": "2020-02-29", "v": 0.0065}, {"id": 4, "d": "2023-11-27", "v": 0.2768},
      {"id": 5, "d": "2025-10-19", "v": 0.2980}
    ],
    "arr": [
      {"a": "a", "k": 0, "d": "2016-06-08", "v": -0.3721}, {"a": "a", "k": 1, "d": "2012-02-21", "v": -0.2293, "tip": 1},
      {"a": "b", "k": 0, "d": "2016-06-08", "v": -0.3721}, {"a": "b", "k": 1, "d": "2013-11-28", "v": -0.1565, "tip": 1},
      {"a": "c", "k": 0, "d": "2016-06-08", "v": -0.3721}, {"a": "c", "k": 1, "d": "2020-01-25", "v": -0.0504, "tip": 1},
      {"a": "d", "k": 0, "d": "2016-06-08", "v": -0.3721}, {"a": "d", "k": 1, "d": "2017-08-25", "v": -0.3034},
      {"a": "d", "k": 2, "d": "2019-01-30", "v": -0.2201}, {"a": "d", "k": 3, "d": "2020-05-29", "v": -0.1198},
      {"a": "d", "k": 4, "d": "2021-07-05", "v": -0.0196}, {"a": "d", "k": 5, "d": "2022-05-03", "v": 0.0673},
      {"a": "d", "k": 6, "d": "2023-04-29", "v": 0.1917, "tip": 1},
      {"a": "e", "k": 0, "d": "2019-02-26", "v": -0.4339}, {"a": "e", "k": 1, "d": "2020-05-29", "v": -0.3638},
      {"a": "e", "k": 2, "d": "2021-07-06", "v": -0.2936}, {"a": "e", "k": 3, "d": "2022-08-12", "v": -0.2067},
      {"a": "e", "k": 4, "d": "2023-06-11", "v": -0.1031}, {"a": "e", "k": 5, "d": "2024-04-08", "v": 0.0005},
      {"a": "e", "k": 6, "d": "2024-09-14", "v": 0.0608}, {"a": "e", "k": 7, "d": "2025-07-29", "v": 0.2015, "tip": 1},
      {"a": "f", "k": 0, "d": "2021-04-12", "v": 0.4078}, {"a": "f", "k": 1, "d": "2021-08-16", "v": 0.3168, "tip": 1},
      {"a": "g", "k": 0, "d": "2024-03-17", "v": 0.4307}, {"a": "g", "k": 1, "d": "2024-03-12", "v": 0.3336, "tip": 1},
      {"a": "h", "k": 0, "d": "2017-04-18", "v": 0.4396}, {"a": "h", "k": 1, "d": "2020-06-24", "v": 0.4586},
      {"a": "h", "k": 2, "d": "2023-08-10", "v": 0.4687}, {"a": "h", "k": 3, "d": "2025-03-03", "v": 0.4674},
      {"a": "h", "k": 4, "d": "2025-09-11", "v": 0.4611}, {"a": "h", "k": 5, "d": "2026-01-01", "v": 0.4510},
      {"a": "h", "k": 6, "d": "2026-02-02", "v": 0.4360}, {"a": "h", "k": 7, "d": "2026-01-21", "v": 0.4257},
      {"a": "h", "k": 8, "d": "2025-12-14", "v": 0.4170}, {"a": "h", "k": 9, "d": "2025-10-27", "v": 0.4106, "tip": 1}
    ],
    "txt": [
      {"d": "2016-04-15", "v": 0.4521, "t": "Red Bars (Bottoming Zones)"},
      {"d": "2016-04-15", "v": 0.4394, "t": "Green Bars Topping Zones (not absolute)"},
      {"d": "2016-04-15", "v": 0.4253, "t": "Note theres none since a long time..."},
      {"d": "2021-02-20", "v": 0.4165, "t": "Sep 2021"},
      {"d": "2024-03-14", "v": 0.4396, "t": "March 2024"},
      {"d": "2017-05-11", "v": -0.3927, "t": "When Blue is Below Green those are periods of Historical Massive Undervalued Enttries"},
      {"d": "2017-12-10", "v": -0.4352, "t": "Blue has only just broken above Green and re-testing"}
    ]
  },
  "resolve": {"scale": {"y": "independent"}},
  "layer": [
    {
      "data": {"values": [{}]},
      "mark": {"type": "rule", "color": "#3a3a3a", "strokeWidth": 2},
      "encoding": {"y": {"datum": 0, "type": "quantitative", "scale": {"domain": [-0.28442, 0.37636], "nice": false, "zero": false}, "axis": null}}
    },
    {
      "data": {"values": [{}]},
      "mark": {"type": "rule", "color": "#3a3a3a", "strokeWidth": 2},
      "encoding": {"y": {"datum": 0, "type": "quantitative", "scale": {"domain": [-0.27819, 0.3435], "nice": false, "zero": false}, "axis": null}}
    },
    {
      "data": {"values": [{}]},
      "mark": {"type": "rule", "color": "#3a3a3a", "strokeWidth": 2},
      "encoding": {"y": {"datum": 0, "type": "quantitative", "scale": {"domain": [-0.27004, 0.37304], "nice": false, "zero": false}, "axis": null}}
    },
    {
      "data": {"values": [{}]},
      "mark": {"type": "rule", "color": "#3a3a3a", "strokeWidth": 2},
      "encoding": {
        "y": {
          "datum": 0, "type": "quantitative", "title": "12m RoC",
          "scale": {"domain": [-1, 4], "nice": false},
          "axis": {"title": "12m RoC", "orient": "right", "offset": -285, "values": [-1, 0, 1, 2, 3, 4], "grid": false,
                   "titleAngle": 270, "titleX": 43, "titleY": 504, "titleBaseline": "middle", "titleAlign": "center"}
        }
      }
    },
    {
      "data": {"name": "m"},
      "mark": {"type": "line", "strokeWidth": 2.5},
      "encoding": {
        "x": {
          "field": "d", "type": "temporal", "title": "Date",
          "scale": {"domain": [{"year": 2010, "month": 7, "date": 17}, {"year": 2025, "month": 12, "date": 1}]},
          "axis": {"format": "%Y", "tickCount": {"interval": "year", "step": 2}, "grid": false, "labelPadding": 3, "titlePadding": 18}
        },
        "y": {
          "field": "p", "type": "quantitative", "title": "ψ (inv, log-sym)",
          "scale": {"domain": [-0.28442, 0.37636], "nice": false, "zero": false},
          "axis": {"orient": "left", "values": [-0.2, -0.1, 0, 0.1, 0.2, 0.3], "format": ".1~f", "grid": true,
                   "titleAngle": 270, "titleX": -43, "titleY": 504, "titleBaseline": "middle", "titleAlign": "center"}
        },
        "color": {
          "datum": "ψ (inv, log-sym)", "type": "nominal",
          "scale": {
            "domain": ["ψ (inv, log-sym)", "Fast (inv, log-sym)", "Slow (inv, log-sym)", "12m RoC", "BTC (log axis)"],
            "range": ["#56b4e9", "#86e65a", "#f2a541", "#6e2a25", "#ffffff"]
          },
          "legend": {
            "orient": "none", "legendX": 4, "legendY": 1312, "direction": "horizontal", "title": null,
            "symbolType": "stroke", "symbolSize": 784, "symbolStrokeWidth": 3,
            "labelFont": "Open Sans", "labelFontSize": 14, "labelColor": "#e8e8e8",
            "columnPadding": 4, "labelOffset": 3,
            "encode": {
              "symbols": {"update": {"strokeDash": {"signal": "datum.value === 'Fast (inv, log-sym)' ? [2, 3] : datum.value === 'Slow (inv, log-sym)' ? [8, 6] : [1, 0]"}}},
              "labels": {"update": {"fill": {"signal": "datum.value === '12m RoC' ? '#8c8c8c' : '#e8e8e8'"}}}
            }
          }
        }
      }
    },
    {
      "data": {"name": "slow"},
      "mark": {"type": "line", "strokeWidth": 2.8, "strokeDash": [9, 6], "interpolate": "monotone"},
      "encoding": {
        "x": {"field": "d", "type": "temporal", "title": "Date"},
        "y": {
          "field": "v", "type": "quantitative", "title": "Slow (inv, log-sym)",
          "scale": {"domain": [-0.27819, 0.3435], "nice": false, "zero": false},
          "axis": {"orient": "right", "offset": -142, "values": [-0.2, -0.1, 0, 0.1, 0.2, 0.3], "format": ".1~f", "grid": false,
                   "titleAngle": 270, "titleX": 41, "titleY": 504, "titleBaseline": "middle", "titleAlign": "center"}
        },
        "color": {"datum": "Slow (inv, log-sym)", "type": "nominal"}
      }
    },
    {
      "data": {"name": "m"},
      "mark": {"type": "line", "strokeWidth": 2.5, "strokeDash": [2, 3]},
      "encoding": {
        "x": {"field": "d", "type": "temporal", "title": "Date"},
        "y": {
          "field": "f", "type": "quantitative", "title": "Fast (inv, log-sym)",
          "scale": {"domain": [-0.27004, 0.37304], "nice": false, "zero": false},
          "axis": {"orient": "right", "values": [-0.2, -0.1, 0, 0.1, 0.2, 0.3], "format": ".1~f", "grid": true,
                   "titleAngle": 270, "titleX": 41, "titleY": 504, "titleBaseline": "middle", "titleAlign": "center"}
        },
        "color": {"datum": "Fast (inv, log-sym)", "type": "nominal"}
      }
    },
    {
      "data": {"name": "btc"},
      "mark": {"type": "line", "strokeWidth": 2},
      "encoding": {
        "x": {"field": "d", "type": "temporal", "title": "Date"},
        "y": {
          "field": "p", "type": "quantitative", "title": "BTC (log)",
          "scale": {"type": "log", "domain": [0.02139, 272900], "nice": false},
          "axis": {"orient": "right", "values": [0.1, 1, 10, 100, 1000, 10000, 100000], "grid": true,
                   "labelExpr": "datum.value >= 10000 ? format(datum.value / 1000, 'd') + 'k' : format(datum.value, '~g')",
                   "titleAngle": 270, "titleX": 41, "titleY": 504, "titleBaseline": "middle", "titleAlign": "center"}
        },
        "color": {"datum": "BTC (log axis)", "type": "nominal"}
      }
    },
    {
      "data": {"name": "bars"},
      "mark": {"type": "rect"},
      "encoding": {
        "x": {"field": "s", "type": "temporal", "title": "Date"},
        "x2": {"field": "e"},
        "fill": {"field": "k", "type": "nominal", "scale": {"domain": ["g", "r"], "range": ["rgba(100,190,85,0.3)", "rgba(215,60,48,0.3)"]}, "legend": null}
      }
    },
    {
      "encoding": {
        "x": {"field": "d", "type": "temporal", "title": "Date"},
        "y": {"field": "v", "type": "quantitative", "axis": null, "scale": {"domain": [-0.28442, 0.37636], "nice": false, "zero": false}}
      },
      "layer": [
        {"data": {"name": "ell"}, "transform": [{"filter": "datum.id <= 2"}],
         "mark": {"type": "point", "shape": "M-1,0A1,1.247 0 1,0 1,0A1,1.247 0 1,0 -1,0Z", "size": 13456, "filled": false, "color": "#ffffff", "strokeWidth": 4, "opacity": 1}},
        {"data": {"name": "ell"}, "transform": [{"filter": "datum.id == 3"}],
         "mark": {"type": "point", "shape": "M-1,0A1,1.223 0 1,0 1,0A1,1.223 0 1,0 -1,0Z", "size": 13783, "filled": false, "color": "#ffffff", "strokeWidth": 4, "opacity": 1}},
        {"data": {"name": "ell"}, "transform": [{"filter": "datum.id == 4"}],
         "mark": {"type": "point", "shape": "M-1,0A1,0.398 0 1,0 1,0A1,0.398 0 1,0 -1,0Z", "size": 393882, "filled": false, "color": "#ffffff", "strokeWidth": 4, "opacity": 1}},
        {"data": {"name": "ell"}, "transform": [{"filter": "datum.id == 5"}],
         "mark": {"type": "point", "shape": "M-1,0A1,1.355 0 1,0 1,0A1,1.355 0 1,0 -1,0Z", "size": 42436, "filled": false, "color": "#ffffff", "strokeWidth": 4, "opacity": 1}},
        {"data": {"name": "arr"},
         "mark": {"type": "line", "color": "#ffffff", "strokeWidth": 3.5, "interpolate": "catmull-rom"},
         "encoding": {"detail": {"field": "a", "type": "nominal"}, "order": {"field": "k", "type": "quantitative"}}},
        {"data": {"name": "arr"}, "transform": [{"filter": "datum.tip == 1 && datum.a == 'a'"}],
         "mark": {"type": "point", "shape": "M0,0L-0.9,2.2L0.9,2.2Z", "size": 400, "filled": true, "color": "#ffffff", "opacity": 1, "angle": 285}},
        {"data": {"name": "arr"}, "transform": [{"filter": "datum.tip == 1 && datum.a == 'b'"}],
         "mark": {"type": "point", "shape": "M0,0L-0.9,2.2L0.9,2.2Z", "size": 400, "filled": true, "color": "#ffffff", "opacity": 1, "angle": 305}},
        {"data": {"name": "arr"}, "transform": [{"filter": "datum.tip == 1 && datum.a == 'c'"}],
         "mark": {"type": "point", "shape": "M0,0L-0.9,2.2L0.9,2.2Z", "size": 400, "filled": true, "color": "#ffffff", "opacity": 1, "angle": 54}},
        {"data": {"name": "arr"}, "transform": [{"filter": "datum.tip == 1 && datum.a == 'd'"}],
         "mark": {"type": "point", "shape": "M0,0L-0.9,2.2L0.9,2.2Z", "size": 400, "filled": true, "color": "#ffffff", "opacity": 1, "angle": 45}},
        {"data": {"name": "arr"}, "transform": [{"filter": "datum.tip == 1 && datum.a == 'e'"}],
         "mark": {"type": "point", "shape": "M0,0L-0.9,2.2L0.9,2.2Z", "size": 400, "filled": true, "color": "#ffffff", "opacity": 1, "angle": 37}},
        {"data": {"name": "arr"}, "transform": [{"filter": "datum.tip == 1 && datum.a == 'f'"}],
         "mark": {"type": "point", "shape": "M0,0L-0.9,2.2L0.9,2.2Z", "size": 400, "filled": true, "color": "#ffffff", "opacity": 1, "angle": 155}},
        {"data": {"name": "arr"}, "transform": [{"filter": "datum.tip == 1 && datum.a == 'g'"}],
         "mark": {"type": "point", "shape": "M0,0L-0.9,2.2L0.9,2.2Z", "size": 400, "filled": true, "color": "#ffffff", "opacity": 1, "angle": 181}},
        {"data": {"name": "arr"}, "transform": [{"filter": "datum.tip == 1 && datum.a == 'h'"}],
         "mark": {"type": "point", "shape": "M0,0L-0.9,2.2L0.9,2.2Z", "size": 400, "filled": true, "color": "#ffffff", "opacity": 1, "angle": 245}},
        {"data": {"name": "txt"},
         "mark": {"type": "text", "font": "Liberation Sans", "fontWeight": "bold", "fontSize": 16, "color": "#ffffff", "align": "center", "baseline": "middle"},
         "encoding": {"text": {"field": "t"}}},
        {"data": {"values": [{"d": "2010-04-10", "v": 0.4623, "t": "Blended Liquidity Index (ψ) + Components"}]},
         "mark": {"type": "text", "font": "Liberation Sans", "fontWeight": "bold", "fontSize": 24, "color": "#f2f2f2", "align": "left", "baseline": "alphabetic"},
         "encoding": {"text": {"field": "t"}}},
        {"data": {"values": [{"d": "2010-03-04", "v": 0.4623, "t": "📉"}]},
         "mark": {"type": "text", "fontSize": 22, "color": "#9fc3e6", "align": "center", "baseline": "alphabetic"},
         "encoding": {"text": {"field": "t"}}}
      ]
    }
  ]
}
